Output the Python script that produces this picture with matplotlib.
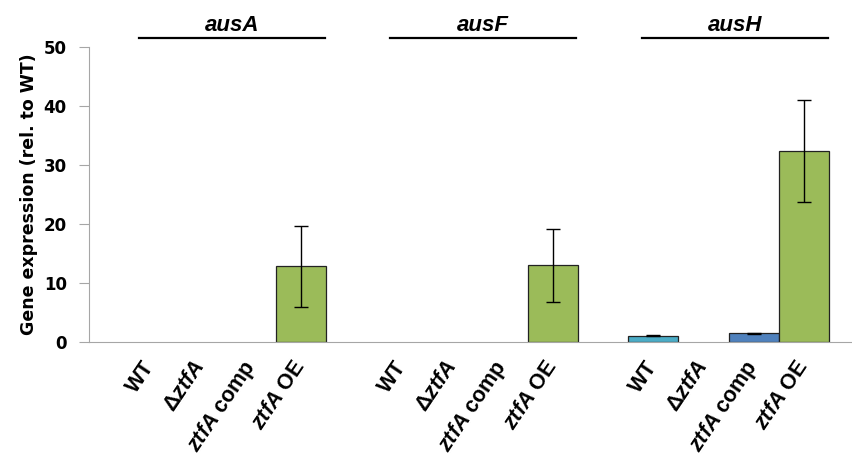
import numpy as np
import matplotlib.pyplot as plt

plt.rcParams['font.family'] = 'DejaVu Sans'
plt.rcParams['font.weight'] = 'bold'
plt.rcParams['mathtext.fontset'] = 'custom'
plt.rcParams['mathtext.it'] = 'Liberation Sans:italic:bold'
plt.rcParams['mathtext.rm'] = 'Liberation Sans:bold'

# data
genes = ['ausA', 'ausF', 'ausH']
strains = ['WT', r'Δ$ztfA$', r'$ztfA$ comp', r'$ztfA$ OE']
values = [[0, 0, 0, 12.8],
          [0, 0, 0, 13.0],
          [1.1, 0, 1.45, 32.4]]
errors = [[0, 0, 0, 6.9],
          [0, 0, 0, 6.2],
          [0.15, 0, 0.08, 8.6]]
colors = ['#4BACC6', '#4BACC6', '#4F81BD', '#9BBB59']

fig = plt.figure(figsize=(8.53, 4.67), dpi=100)
ax = fig.add_axes([89/853, 1-342/467, 1-89/853, (342-47)/467])

xpos = []
labels = []
for g in range(len(genes)):
    for s in range(len(strains)):
        x = g*5 + s
        xpos.append(x)
        labels.append(strains[s])
        v = values[g][s]
        if v > 0:
            ax.bar(x, v, width=1.0, color=colors[s], edgecolor='#222222', linewidth=0.9, zorder=2)
            ax.errorbar(x, v, yerr=errors[g][s], fmt='none', ecolor='black',
                        elinewidth=1, capsize=5, capthick=1, zorder=3)
    # gene title with line
    x0, x1 = g*5 - 0.23, g*5 + 3.47
    ax.plot([x0, x1], [51.5, 51.5], color='black', lw=1.6, clip_on=False)
    ax.text((x0+x1)/2, 53.6, genes[g], ha='center', va='center', fontsize=16,
            fontstyle='italic', fontweight='bold', family='Liberation Sans')

ax.set_xlim(-1.22, 13.97)
ax.set_ylim(0, 50)
ax.set_yticks([0, 10, 20, 30, 40, 50])
ax.set_xticks(xpos)
ax.set_xticklabels(labels, rotation=56, ha='right', va='center',
                   rotation_mode='anchor', fontsize=15.5, fontweight='bold',
                   family='Liberation Sans')
ax.tick_params(axis='x', length=0, pad=15)
ax.tick_params(axis='y', length=7, color='#A6A6A6', labelsize=12, pad=9)
for lab in ax.get_yticklabels():
    lab.set_fontweight('bold')
for sp in ['top', 'right']:
    ax.spines[sp].set_visible(False)
ax.spines['left'].set_color('#A6A6A6')
ax.spines['bottom'].set_color('#A6A6A6')
ax.set_ylabel('Gene expression (rel. to WT)', fontsize=12.5, fontweight='bold', labelpad=4)

fig.savefig('out.png', dpi=100)
